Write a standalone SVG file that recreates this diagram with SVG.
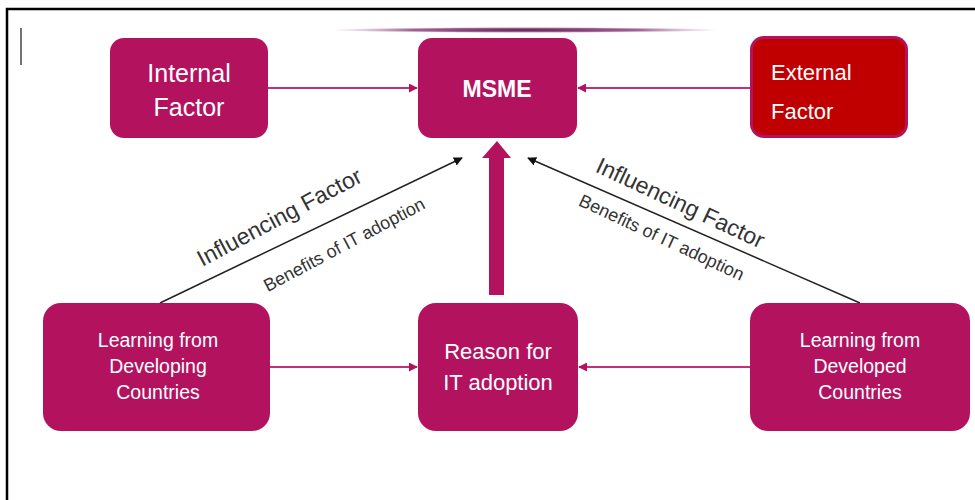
<svg xmlns="http://www.w3.org/2000/svg" width="975" height="500" viewBox="0 0 975 500">
<style>
.box{fill:#b3125f;}
.t{fill:#fff;font-family:"Liberation Sans",Arial,sans-serif;text-anchor:middle;}
.lbl{fill:#333;font-family:"Liberation Sans",Arial,sans-serif;text-anchor:middle;}
.pink{stroke:#c2307a;stroke-width:1.8;fill:none;}
.blk{stroke:#222;stroke-width:1.5;fill:none;}
</style>
<defs>
<marker id="pa" viewBox="0 0 10 10" refX="9" refY="5" markerWidth="5" markerHeight="5" orient="auto"><path d="M0,0L10,5L0,10z" fill="#b3125f"/></marker>
<marker id="ba" viewBox="0 0 10 10" refX="9" refY="5" markerWidth="6" markerHeight="6" orient="auto"><path d="M0,0L10,5L0,10z" fill="#111"/></marker>
<radialGradient id="sh" cx="0.5" cy="0.5" r="0.5"><stop offset="0" stop-color="#5a1a4a"/><stop offset="0.6" stop-color="#8a3a78" stop-opacity="0.8"/><stop offset="1" stop-color="#b07aa8" stop-opacity="0"/></radialGradient>
</defs>
<rect width="975" height="500" fill="#fff"/>
<path d="M7,500V9H975" fill="none" stroke="#000" stroke-width="2.5"/>
<line x1="21" y1="28" x2="21" y2="65" stroke="#444" stroke-width="1.5"/>
<ellipse cx="525" cy="30" rx="195" ry="3" fill="url(#sh)"/>

<g id="connectors">
<line class="pink" x1="268" y1="88" x2="417" y2="88" marker-end="url(#pa)"/>
<line class="pink" x1="750" y1="88" x2="578" y2="88" marker-end="url(#pa)"/>
<line class="pink" x1="270" y1="367" x2="417" y2="367" marker-end="url(#pa)"/>
<line class="pink" x1="750" y1="367" x2="579" y2="367" marker-end="url(#pa)"/>
<path d="M489,295V158H482L497,141L511,158H504V295Z" fill="#b3125f"/>
<line class="blk" x1="160" y1="303" x2="462" y2="158" marker-end="url(#ba)"/>
<line class="blk" x1="860" y1="303" x2="528" y2="158" marker-end="url(#ba)"/>
<text class="lbl" font-size="23" transform="translate(283,224) rotate(-28)">Influencing Factor</text>
<text class="lbl" font-size="18" transform="translate(347,250) rotate(-28)">Benefits of IT adoption</text>
<text class="lbl" font-size="23" transform="translate(677,210) rotate(25)">Influencing Factor</text>
<text class="lbl" font-size="18" transform="translate(659,243) rotate(25)">Benefits of IT adoption</text>
</g>

<g id="internal">
<rect class="box" x="110" y="38" width="158" height="100" rx="14"/>
<text class="t" font-size="25" x="189" y="82">Internal</text>
<text class="t" font-size="25" x="189" y="116">Factor</text>
</g>
<g id="msme">
<rect class="box" x="418" y="38" width="159" height="100" rx="14"/>
<text class="t" font-size="23" font-weight="bold" x="497" y="97">MSME</text>
</g>
<g id="external">
<rect class="box" x="750" y="36" width="158" height="102" rx="14"/>
<rect x="753" y="39" width="152" height="96" rx="11" fill="#c00000"/>
<text class="t" font-size="22" x="771" y="80" style="text-anchor:start">External</text>
<text class="t" font-size="22" x="771" y="119" style="text-anchor:start">Factor</text>
</g>
<g id="developing">
<rect class="box" x="43" y="303" width="227" height="128" rx="18"/>
<text class="t" font-size="19.5" x="158" y="347">Learning from</text>
<text class="t" font-size="19.5" x="158" y="373">Developing</text>
<text class="t" font-size="19.5" x="158" y="399">Countries</text>
</g>
<g id="reason">
<rect class="box" x="418" y="303" width="160" height="128" rx="18"/>
<text class="t" font-size="22" x="498" y="359">Reason for</text>
<text class="t" font-size="22" x="498" y="390">IT adoption</text>
</g>
<g id="developed">
<rect class="box" x="750" y="303" width="220" height="128" rx="18"/>
<text class="t" font-size="19.5" x="860" y="347">Learning from</text>
<text class="t" font-size="19.5" x="860" y="373">Developed</text>
<text class="t" font-size="19.5" x="860" y="399">Countries</text>
</g>
</svg>
